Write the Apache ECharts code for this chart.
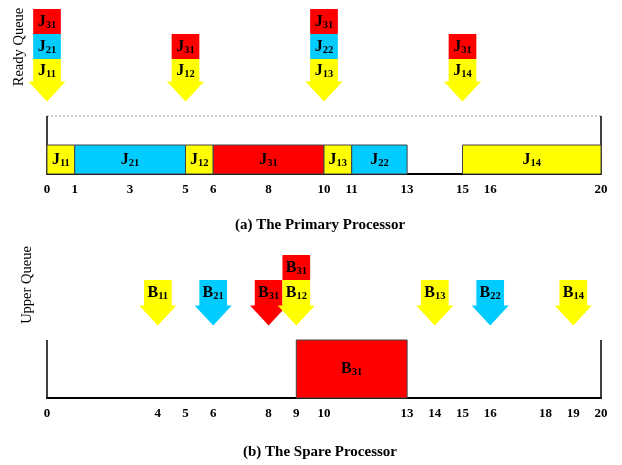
<!DOCTYPE html>
<html><head><meta charset="utf-8">
<script src="https://cdn.jsdelivr.net/npm/echarts@6/dist/echarts.min.js"></script>
<style>html,body{margin:0;padding:0;background:#fff}#c{width:622px;height:465px}</style>
</head><body><div id="c"></div>
<script>
// ---------- data ----------
const primaryTicks = [0,1,3,5,6,8,10,11,13,15,16,20];
const spareTicks = [0,4,5,6,8,9,10,13,14,15,16,18,19,20];
const primaryJobs = ['J11','J21','J12','J31','J13','J22','J14'];
const primaryStart = [0,1,5,6,10,11,15];
const primaryEnd = [1,5,6,10,11,13,20];
const readyTimes = [0,5,10,15];
const readyStacks = [['J11','J21','J31'],['J12','J31'],['J13','J22','J31'],['J14','J31']];
const spareJobs = ['B31'];
const spareStart = [9];
const spareEnd = [13];
const upperTimes = [4,6,8,9,14,16,19];
const upperStacks = [['B11'],['B21'],['B31'],['B12','B31'],['B13'],['B22'],['B14']];

// ---------- styles ----------
const taskColors = {'1':'#FFFF00','2':'#00CCFF','3':'#FF0000'};
function colorOf(job){ return taskColors[job.charAt(1)]; }
const SERIF = '"Liberation Serif","Times New Roman",serif';
function richLabel(job){ return '{m|'+job.charAt(0)+'}{s|'+job.slice(1)+'}'; }
const rich = {
  m:{fontFamily:SERIF,fontWeight:'bold',fontSize:16,lineHeight:18,color:'#000'},
  s:{fontFamily:SERIF,fontWeight:'bold',fontSize:10.5,lineHeight:10,verticalAlign:'bottom',color:'#000'}
};
const ARROW_TIP = 2.5;   // y level of arrow tips (axis units)
const FRAME_TOP = 2;     // y level of frame top
const HEAD_H = 20, CELL_H = 25;

function barRenderer(jobs, topLevel){
  return function(params, api){
    const p0 = api.coord([api.value(0), topLevel]);
    const p1 = api.coord([api.value(1), 0]);
    const job = jobs[params.dataIndex];
    return {type:'group', children:[
      {type:'rect', shape:{x:p0[0], y:p0[1], width:p1[0]-p0[0], height:p1[1]-p0[1]},
       style:{fill:colorOf(job), stroke:'#444', lineWidth:1}},
      {type:'text', style:{text:richLabel(job), rich:rich, x:(p0[0]+p1[0])/2, y:(p0[1]+p1[1])/2,
       align:'center', verticalAlign:'middle'}}
    ]};
  };
}
function arrowRenderer(stacks, bodyH){
  return function(params, api){
    const tip = api.coord([api.value(0), ARROW_TIP]);
    const w = api.size([1,0])[0];
    const hw = w*0.67;
    const cx = tip[0];
    const stack = stacks[params.dataIndex];
    const children = [];
    children.push({type:'polygon', shape:{points:[[cx-hw, tip[1]-HEAD_H],[cx+hw, tip[1]-HEAD_H],[cx, tip[1]]]},
      style:{fill:colorOf(stack[0])}});
    let y = tip[1]-HEAD_H + 0.5;
    stack.forEach(function(job,k){
      const h = k===0 ? bodyH : CELL_H;
      children.push({type:'rect', shape:{x:cx-w/2, y:y-h, width:w, height:h}, style:{fill:colorOf(job)}});
      children.push({type:'text', style:{text:richLabel(job), rich:rich, x:cx, y:y-h/2,
        align:'center', verticalAlign:'middle'}});
      y -= h;
    });
    return {type:'group', children:children};
  };
}

function xAxisFor(gi, ticks){
  return {type:'value', gridIndex:gi, min:0, max:20, interval:1,
    axisLine:{show:true, onZero:false, lineStyle:{color:'#000', width:2}},
    axisTick:{show:false}, splitLine:{show:false},
    axisLabel:{customValues:ticks, margin:9, color:'#000', fontFamily:SERIF, fontWeight:'bold', fontSize:13}};
}
function yAxisFor(gi, max){
  return {type:'value', gridIndex:gi, min:0, max:max, show:false, splitLine:{show:false}};
}
function lineSeries(gi, pts, style, z){
  return {type:'line', xAxisIndex:gi, yAxisIndex:gi, data:pts, symbol:'none', silent:true,
    lineStyle:style, z:z, animation:false};
}

const chart = echarts.init(document.getElementById('c'), null, {renderer:'canvas'});
chart.setOption({
  animation:false,
  backgroundColor:'#fff',
  grid:[
    {left:47, width:554, top:0, height:174},
    {left:47, width:554, top:238.5, height:159.5}
  ],
  xAxis:[xAxisFor(0, primaryTicks), xAxisFor(1, spareTicks)],
  yAxis:[yAxisFor(0, 6), yAxisFor(1, 5.5)],
  graphic:[
    {type:'text', x:19, y:47, rotation:Math.PI/2, style:{text:'Ready Queue', font:'14.5px '+SERIF, fill:'#000', align:'center', verticalAlign:'middle'}},
    {type:'text', x:27, y:285, rotation:Math.PI/2, style:{text:'Upper Queue', font:'14.5px '+SERIF, fill:'#000', align:'center', verticalAlign:'middle'}},
    {type:'text', x:320, y:225, style:{text:'(a) The Primary Processor', font:'bold 15px '+SERIF, fill:'#000', align:'center', verticalAlign:'middle'}},
    {type:'text', x:320, y:452, style:{text:'(b) The Spare Processor', font:'bold 15px '+SERIF, fill:'#000', align:'center', verticalAlign:'middle'}}
  ],
  series:[
    lineSeries(0, [[0,FRAME_TOP],[20,FRAME_TOP]], {color:'#999', width:1, type:[2,2]}, 1),
    lineSeries(0, [[0,0],[0,FRAME_TOP]], {color:'#000', width:1.5}, 1),
    lineSeries(0, [[20,0],[20,FRAME_TOP]], {color:'#000', width:1.5}, 1),
    lineSeries(1, [[0,0],[0,FRAME_TOP]], {color:'#000', width:1.5}, 1),
    lineSeries(1, [[20,0],[20,FRAME_TOP]], {color:'#000', width:1.5}, 1),
    {type:'custom', xAxisIndex:0, yAxisIndex:0, z:3,
      data:primaryJobs.map(function(j,i){return [primaryStart[i], primaryEnd[i]];}),
      renderItem:barRenderer(primaryJobs, 1)},
    {type:'custom', xAxisIndex:1, yAxisIndex:1, z:3,
      data:spareJobs.map(function(j,i){return [spareStart[i], spareEnd[i]];}),
      renderItem:barRenderer(spareJobs, FRAME_TOP)},
    {type:'custom', xAxisIndex:0, yAxisIndex:0, z:4,
      data:readyTimes.map(function(t){return [t];}),
      renderItem:arrowRenderer(readyStacks, 23)},
    {type:'custom', xAxisIndex:1, yAxisIndex:1, z:4,
      data:upperTimes.map(function(t){return [t];}),
      renderItem:arrowRenderer(upperStacks, 26)}
  ]
});
</script>
</body></html>
